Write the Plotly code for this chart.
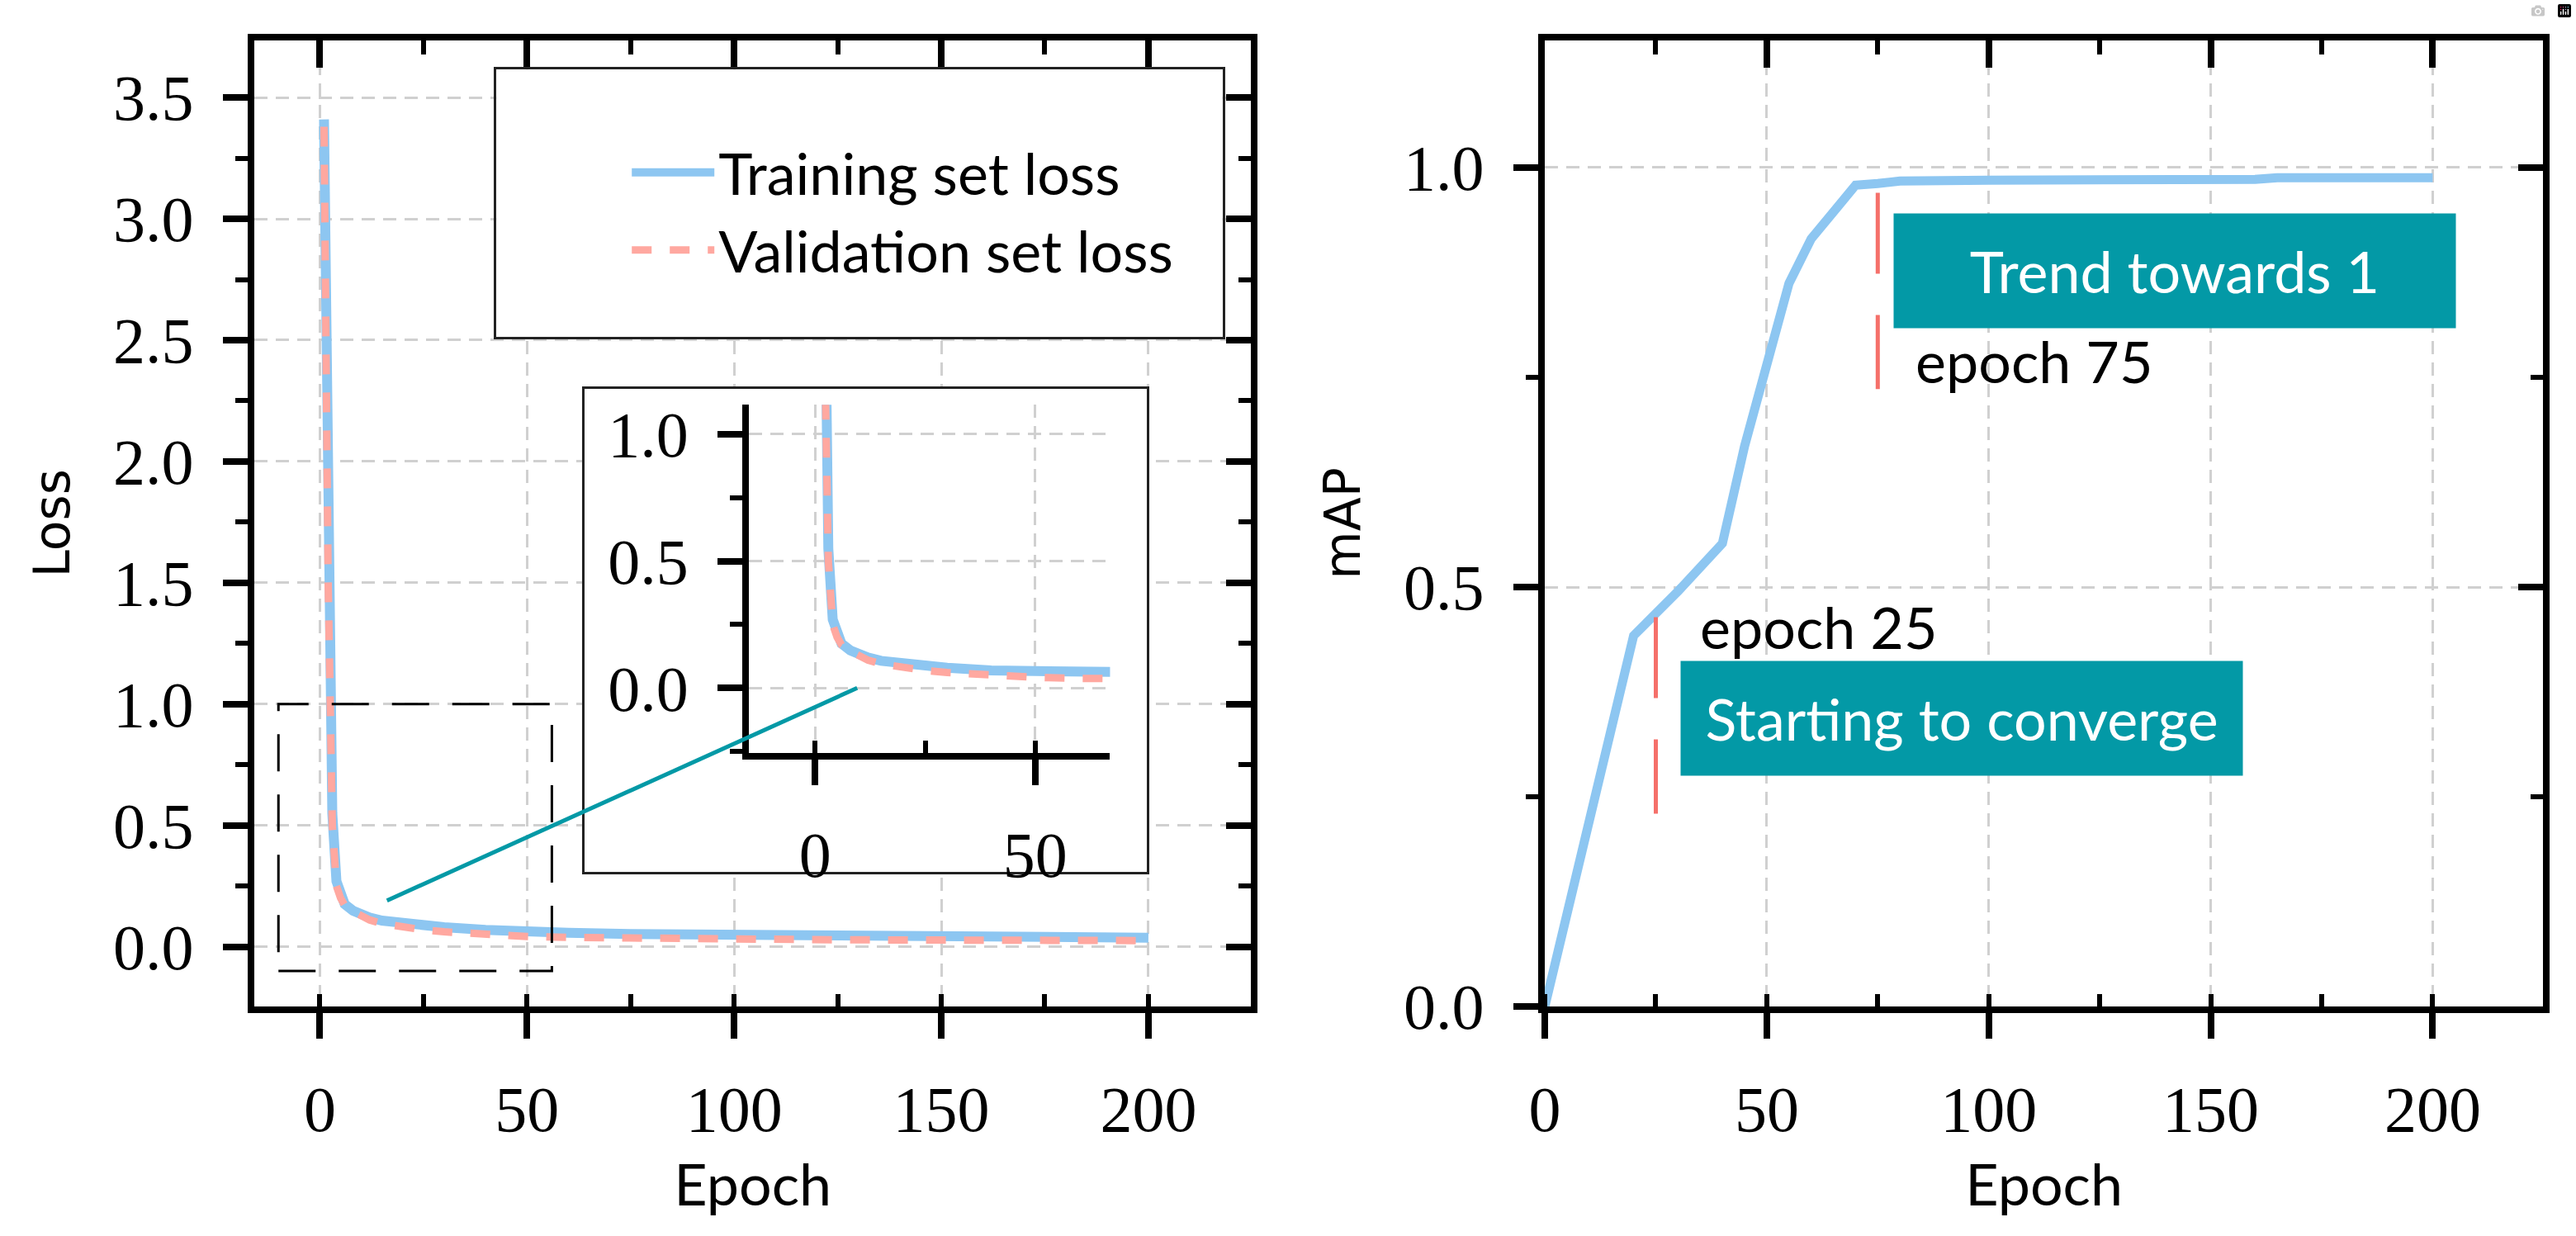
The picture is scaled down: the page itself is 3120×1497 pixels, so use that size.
import plotly.graph_objects as go

W, H = 3120, 1497

# ---------------- data ----------------
loss_epochs = [1, 2, 3, 4, 5, 6, 8, 10, 12, 15, 20, 25, 30, 40, 50, 60, 75, 100, 125, 150, 175, 200]
train_loss = [3.41, 1.55, 0.55, 0.27, 0.21, 0.175, 0.148, 0.132, 0.12, 0.107, 0.095, 0.086, 0.08,
              0.069, 0.061, 0.057, 0.052, 0.047, 0.045, 0.043, 0.040, 0.037]
val_loss = [3.38, 1.50, 0.50, 0.25, 0.20, 0.17, 0.145, 0.125, 0.11, 0.095, 0.08, 0.069, 0.061,
            0.050, 0.042, 0.038, 0.034, 0.030, 0.028, 0.027, 0.026, 0.025]

map_epochs = [0, 10, 20, 30, 40, 45, 50, 55, 60, 65, 70, 75, 80, 100, 120, 140, 160, 165, 180, 200]
map_values = [0.0, 0.221, 0.442, 0.495, 0.552, 0.668, 0.762, 0.862, 0.915, 0.945, 0.979, 0.981,
              0.984, 0.985, 0.985, 0.985, 0.986, 0.988, 0.988, 0.988]

marker_epochs = [25, 75]
marker_top = [0.464, 0.970]
marker_bottom = [0.230, 0.736]
marker_labels = ["epoch 25", "epoch 75"]
box_labels = ["Starting to converge", "Trend towards 1"]

loss_xticks = [0, 50, 100, 150, 200]
loss_yticks = [0.0, 0.5, 1.0, 1.5, 2.0, 2.5, 3.0, 3.5]
inset_xticks = [0, 50]
inset_yticks = [0.0, 0.5, 1.0]
map_xticks = [0, 50, 100, 150, 200]
map_yticks = [0.0, 0.5, 1.0]

series_names = ["Training set loss", "Validation set loss"]

# ---------------- styles ----------------
BLUE = "#8DC6F1"
PINK = "#FFA8A0"
TEAL = "#0399A6"
RED = "#F5706A"
GRID = "#D0D0D0"
TICKFONT = dict(family="Liberation Serif", size=78, color="black")
LABELFONT = dict(family="Lato", size=70, color="black")
YTITLEFONT = dict(family="DejaVu Sans", size=60, color="black")


def dx(px):
    return px / W


def dy(py):
    return 1 - py / H


def fmt(v):
    return f"{v:.1f}"


fig = go.Figure()

# main loss traces
fig.add_trace(go.Scatter(x=loss_epochs, y=train_loss, mode="lines", name=series_names[0],
                         line=dict(color=BLUE, width=12), xaxis="x", yaxis="y"))
fig.add_trace(go.Scatter(x=loss_epochs, y=val_loss, mode="lines", name=series_names[1],
                         line=dict(color=PINK, width=9, dash="24px,22px"), xaxis="x", yaxis="y"))
# inset traces
fig.add_trace(go.Scatter(x=loss_epochs, y=train_loss, mode="lines", showlegend=False,
                         line=dict(color=BLUE, width=12), xaxis="x6", yaxis="y6"))
fig.add_trace(go.Scatter(x=loss_epochs, y=val_loss, mode="lines", showlegend=False,
                         line=dict(color=PINK, width=9, dash="24px,22px"), xaxis="x6", yaxis="y6"))
# mAP trace
fig.add_trace(go.Scatter(x=map_epochs, y=map_values, mode="lines", showlegend=False,
                         line=dict(color=BLUE, width=11), xaxis="x3", yaxis="y3"))
# epoch markers
for e, t, b in zip(marker_epochs, marker_top, marker_bottom):
    fig.add_trace(go.Scatter(x=[e, e], y=[t, b], mode="lines", showlegend=False,
                             line=dict(color=RED, width=5, dash="98px,50px"),
                             xaxis="x3", yaxis="y3"))

# empty traces so that frame axes / box panels get drawn
for xa, ya in [("x2", "y"), ("x", "y2"), ("x4", "y3"), ("x3", "y4"), ("x5", "y5"), ("x7", "y7")]:
    fig.add_trace(go.Scatter(x=[], y=[], mode="lines", showlegend=False, hoverinfo="skip",
                             xaxis=xa, yaxis=ya))

LW = 8

loss_xr = [-15.8, 224.8]
loss_yr = [-0.247, 3.737]
map_xr = [0, 224.9]
map_yr = [0, 1.152]
inset_xr = [-15, 67]
inset_yr = [-0.255, 1.116]

main_x_dom = [dx(290), dx(1505)]
main_y_dom = [dy(1255), dy(44)]
right_x_dom = [dx(1863), dx(3080)]


def bottom_x(dom, rng, ticks, anchor, grid=True):
    return dict(domain=dom, range=rng, anchor=anchor, tickmode="array", tickvals=ticks,
                ticktext=[str(t) for t in ticks], ticks="outside", ticklen=31, tickwidth=LW,
                tickcolor="black", showline=True, linewidth=LW, linecolor="black",
                showgrid=grid, gridcolor=GRID, gridwidth=3, griddash="16px,10px",
                zeroline=False, tickfont=TICKFONT, ticklabelstandoff=18,
                minor=dict(dtick=25, tick0=0, ticks="inside", ticklen=15, tickwidth=6,
                           tickcolor="black", showgrid=False),
                fixedrange=True)


def left_y(dom, rng, ticks, anchor, minor_dtick=0.25):
    return dict(domain=dom, range=rng, anchor=anchor, tickmode="array", tickvals=ticks,
                ticktext=[fmt(t) for t in ticks], ticks="outside", ticklen=30, tickwidth=LW,
                tickcolor="black", showline=True, linewidth=LW, linecolor="black",
                showgrid=True, gridcolor=GRID, gridwidth=3, griddash="16px,10px",
                zeroline=False, tickfont=TICKFONT, ticklabelstandoff=20,
                minor=dict(dtick=minor_dtick, tick0=0, ticks="outside", ticklen=15, tickwidth=6,
                           tickcolor="black", showgrid=False),
                fixedrange=True)


def top_x(over, anchor, rng, ticks):
    return dict(overlaying=over, side="top", anchor=anchor, range=rng, tickmode="array",
                tickvals=ticks, showticklabels=False, ticks="inside", ticklen=33, tickwidth=LW,
                tickcolor="black", showline=True, linewidth=LW, linecolor="black",
                showgrid=False, zeroline=False,
                minor=dict(dtick=25, tick0=0, ticks="inside", ticklen=17, tickwidth=6,
                           tickcolor="black", showgrid=False),
                fixedrange=True)


def right_y(over, anchor, rng, ticks):
    return dict(overlaying=over, side="right", anchor=anchor, range=rng, tickmode="array",
                tickvals=ticks, showticklabels=False, ticks="inside", ticklen=30, tickwidth=LW,
                tickcolor="black", showline=True, linewidth=LW, linecolor="black",
                showgrid=False, zeroline=False,
                minor=dict(dtick=0.25, tick0=0, ticks="inside", ticklen=15, tickwidth=6,
                           tickcolor="black", showgrid=False),
                fixedrange=True)


def box_axis(dom, anchor, lw):
    return dict(domain=dom, anchor=anchor, range=[0, 1], showline=True, mirror=True,
                linewidth=lw, linecolor="#222222", showgrid=False, zeroline=False,
                ticks="", showticklabels=False, fixedrange=True)


xaxis = bottom_x(main_x_dom, loss_xr, loss_xticks, "y")
xaxis["title"] = dict(text="Epoch", font=LABELFONT, standoff=28)
yaxis = left_y(main_y_dom, loss_yr, loss_yticks, "x")
yaxis["title"] = dict(text="Loss", font=YTITLEFONT, standoff=36)

xaxis3 = bottom_x(right_x_dom, map_xr, map_xticks, "y3")
xaxis3["title"] = dict(text="Epoch", font=LABELFONT, standoff=28)
yaxis3 = left_y(main_y_dom, map_yr, map_yticks, "x3")
yaxis3["title"] = dict(text="mAP", font=YTITLEFONT, standoff=36)

# inset axes
xaxis6 = bottom_x([dx(893), dx(1333)], inset_xr, inset_xticks, "y6")
yaxis6 = left_y([dy(937), dy(501)], inset_yr, inset_yticks, "x6")

fig.update_layout(
    width=W, height=H,
    margin=dict(l=0, r=0, t=0, b=0),
    paper_bgcolor="white", plot_bgcolor="white",
    showlegend=True,
    legend=dict(x=dx(745), y=dy(156), xanchor="left", yanchor="top",
                font=LABELFONT, bgcolor="rgba(0,0,0,0)", borderwidth=0,
                itemwidth=100, tracegroupgap=0),
    xaxis=xaxis, yaxis=yaxis,
    xaxis2=top_x("x", "y", loss_xr, loss_xticks),
    yaxis2=right_y("y", "x", loss_yr, loss_yticks),
    xaxis3=xaxis3, yaxis3=yaxis3,
    xaxis4=top_x("x3", "y3", map_xr, map_xticks),
    yaxis4=right_y("y3", "x3", map_yr, map_yticks),
    xaxis5=box_axis([dx(692), dx(1378)], "y5", 3),
    yaxis5=box_axis([dy(1086), dy(481)], "x5", 3),
    xaxis6=xaxis6, yaxis6=yaxis6,
    xaxis7=box_axis([dx(585), dx(1470)], "y7", 2.5),
    yaxis7=box_axis([dy(416), dy(81)], "x7", 2.5),
)

# zoom rectangle and connector
fig.add_shape(type="rect", xref="x", yref="y", x0=-10, x1=56, y0=-0.1, y1=1.0,
              line=dict(color="black", width=3, dash="45px,28px"), layer="above")
fig.add_shape(type="line", xref="x", yref="y", x0=16.2, y0=0.19, x1=129.7, y1=1.066,
              line=dict(color=TEAL, width=5), layer="above")

# teal label boxes
box_centers = [(93.9, 0.344), (141.85, 0.877)]
for (cx, cy), txt in zip(box_centers, box_labels):
    fig.add_annotation(xref="x3", yref="y3", x=cx, y=cy, text=txt, showarrow=False,
                       bgcolor=TEAL, width=680, height=138, borderpad=0,
                       font=dict(family="Lato", size=70, color="white"),
                       xanchor="center", yanchor="middle")

# epoch labels
label_pos = [(34.6, 0.453), (83.1, 0.770)]
for (lx, ly), txt in zip(label_pos, marker_labels):
    fig.add_annotation(xref="x3", yref="y3", x=lx, y=ly, text=txt, showarrow=False,
                       font=dict(family="Lato", size=70, color="black"),
                       xanchor="left", yanchor="middle")

fig.write_html("out.html",
               post_script="document.body.style.margin='0';document.body.style.overflow='hidden';")
